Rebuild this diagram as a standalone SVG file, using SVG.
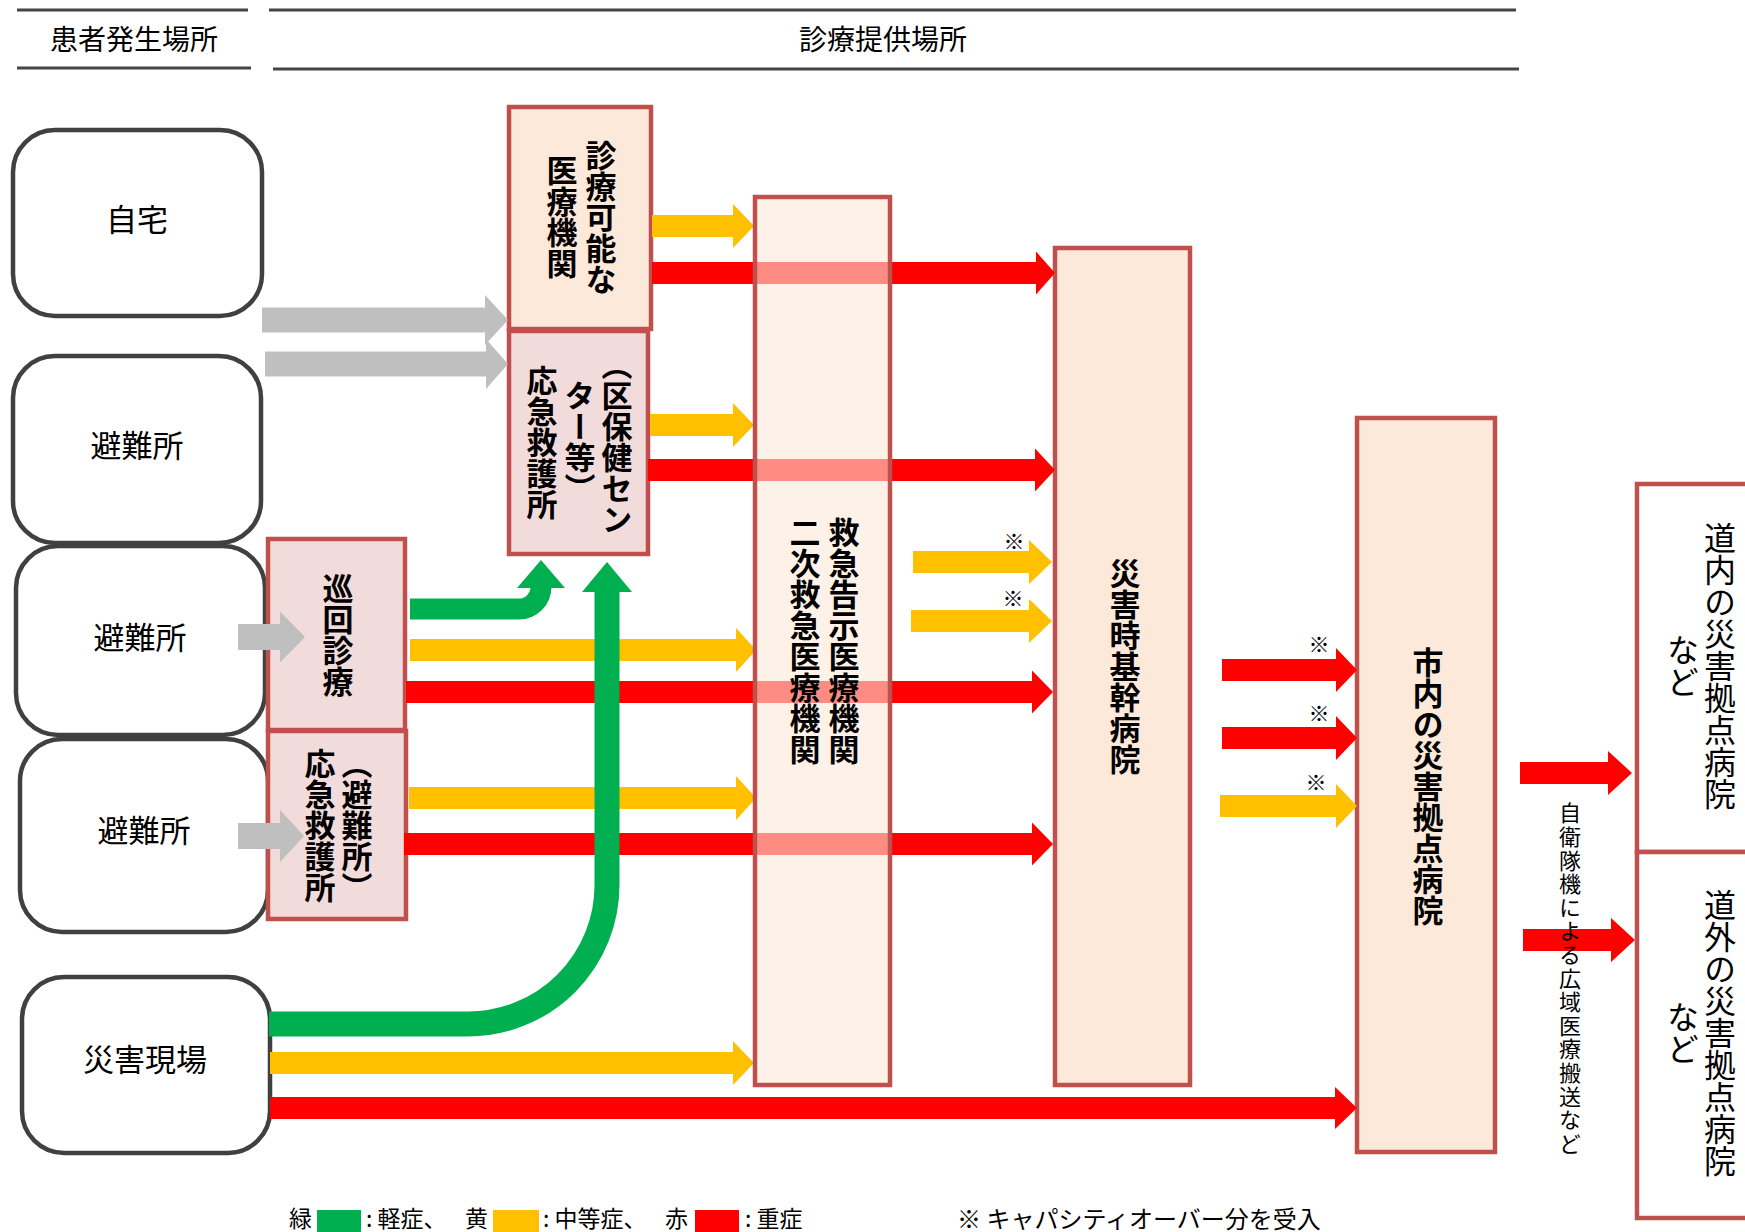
<svg xmlns="http://www.w3.org/2000/svg" width="1745" height="1232" viewBox="0 0 1745 1232">
<defs>
<style>
text { font-family: "Noto Sans CJK JP", "Noto Sans", sans-serif; fill: #000; }
.h { font-size: 28px; dominant-baseline: central; text-anchor: middle; }
.lbl { font-size: 31px; dominant-baseline: central; text-anchor: middle; }
.v { writing-mode: vertical-rl; text-anchor: middle; font-size: 31px; font-weight: 700; }
.vr { writing-mode: vertical-rl; text-anchor: middle; font-size: 32px; font-weight: 400; }
.vs { writing-mode: vertical-rl; text-anchor: middle; font-size: 22px; letter-spacing: 1.6px; }
.note { font-size: 21px; dominant-baseline: central; text-anchor: middle; }
.leg { font-size: 23px; dominant-baseline: central; }
.rbox { fill: #FFFFFF; stroke: #404040; stroke-width: 4.5; }
.peach { fill: #FDE9D9; stroke: #C0504D; stroke-width: 4.5; }
.pink { fill: #F2DCDB; stroke: #C0504D; stroke-width: 4.5; }
.white { fill: #FFFFFF; stroke: #C0504D; stroke-width: 4.5; }
.trans { fill: #FDE9D9; fill-opacity: 0.6; stroke: #C0504D; stroke-width: 4.5; }
.hline { stroke: #454545; stroke-width: 3; }
.red { fill: #FF0000; }
.yel { fill: #FFC000; }
.gry { fill: #BFBFBF; }
.grn { fill: #00B050; }
.grnl { fill: none; stroke: #00B050; }
</style>
</defs>
<rect width="1745" height="1232" fill="#FFFFFF"/>

<!-- header -->
<g id="header">
<line class="hline" x1="17" y1="10" x2="248" y2="10"/>
<line class="hline" x1="17" y1="68" x2="251" y2="68"/>
<line class="hline" x1="269" y1="10" x2="1516" y2="10"/>
<line class="hline" x1="273" y1="69" x2="1519" y2="69"/>
<text class="h" x="134" y="38">患者発生場所</text>
<text class="h" x="883" y="38">診療提供場所</text>
</g>

<!-- base nodes -->
<g id="node-jitaku"><rect class="rbox" x="13" y="130" width="249" height="186" rx="42"/><text class="lbl" x="137" y="217">自宅</text></g>
<g id="node-hinan1"><rect class="rbox" x="13" y="356" width="248" height="187" rx="42"/><text class="lbl" x="137" y="443">避難所</text></g>
<g id="node-hinan2"><rect class="rbox" x="16" y="546" width="249" height="189" rx="42"/><text class="lbl" x="140" y="635">避難所</text></g>
<g id="node-hinan3"><rect class="rbox" x="20" y="739" width="248" height="193" rx="42"/><text class="lbl" x="144" y="828">避難所</text></g>
<g id="node-genba"><rect class="rbox" x="22" y="977" width="248" height="176" rx="42"/><text class="lbl" x="145" y="1057">災害現場</text></g>

<g id="node-shinryo-kano"><rect class="peach" x="509" y="107" width="142" height="222"/>
<text class="v" x="601" y="217">診療可能な</text><text class="v" x="562" y="217">医療機関</text></g>
<g id="node-okyu-ku"><rect class="pink" x="509" y="331" width="139" height="223"/>
<text class="v" x="617" y="442">（区保健セン</text><text class="v" x="580" y="442">ター等）</text><text class="v" x="542" y="442">応急救護所</text></g>
<g id="node-junkai"><rect class="pink" x="268" y="539" width="137" height="191"/>
<text class="v" x="338" y="635">巡回診療</text></g>
<g id="node-okyu-hinan"><rect class="pink" x="268" y="731" width="138" height="188"/>
<text class="v" x="357" y="825">（避難所）</text><text class="v" x="320" y="825">応急救護所</text></g>
<g id="node-kikan"><rect class="peach" x="1055" y="248" width="135" height="837"/>
<text class="v" x="1125" y="666">災害時基幹病院</text></g>
<g id="node-shinai"><rect class="peach" x="1357" y="418" width="138" height="734"/>
<text class="v" x="1428" y="786">市内の災害拠点病院</text></g>
<g id="node-donai"><rect class="white" x="1637" y="484" width="140" height="368"/>
<text class="vr" x="1720" y="666">道内の災害拠点病院</text><text class="vr" x="1683" y="666">など</text></g>
<g id="node-dogai"><rect class="white" x="1637" y="852" width="140" height="366"/>
<text class="vr" x="1720" y="1033">道外の災害拠点病院</text><text class="vr" x="1683" y="1033">など</text></g>

<!-- connectors -->
<g id="connectors">
<!-- gray -->
<polygon class="gry" points="262,307.5 485,307.5 485,295 508,320 485,345 485,332.5 262,332.5"/>
<polygon class="gry" points="265,351.5 486,351.5 486,339 508,364 486,389 486,376.5 265,376.5"/>
<!-- yellow -->
<polygon class="yel" points="652,215 733,215 733,204 754,226 733,248 733,237 652,237"/>
<polygon class="yel" points="650,414 733,414 733,403 754,425 733,447 733,436 650,436"/>
<polygon class="yel" points="913,551 1029,551 1029,540 1052,562 1029,584 1029,573 913,573"/>
<polygon class="yel" points="911,610 1029,610 1029,599 1052,621 1029,643 1029,632 911,632"/>
<polygon class="yel" points="410,639 736,639 736,628 756,650 736,672 736,661 410,661"/>
<polygon class="yel" points="409,787 736,787 736,776 756,798 736,820 736,809 409,809"/>
<polygon class="yel" points="270,1052 733,1052 733,1041 754,1063 733,1085 733,1074 270,1074"/>
<polygon class="yel" points="1220,795 1336,795 1336,784 1357,806 1336,828 1336,817 1220,817"/>
<!-- red -->
<polygon class="red" points="652,262 1036,262 1036,251.5 1055,273 1036,294.5 1036,284 652,284"/>
<polygon class="red" points="648,459 1035,459 1035,448.5 1055,470 1035,491.5 1035,481 648,481"/>
<polygon class="red" points="406,681 1032,681 1032,670.5 1053,692 1032,713.5 1032,703 406,703"/>
<polygon class="red" points="404,833 1032,833 1032,822.5 1053,844 1032,865.5 1032,855 404,855"/>
<polygon class="red" points="270,1097 1335,1097 1335,1087 1357,1108 1335,1129 1335,1119 270,1119"/>
<polygon class="red" points="1222,659 1336,659 1336,648 1357,670 1336,692 1336,681 1222,681"/>
<polygon class="red" points="1222,727 1336,727 1336,716 1357,738 1336,760 1336,749 1222,749"/>
<polygon class="red" points="1520,762 1608,762 1608,751 1632,773 1608,795 1608,784 1520,784"/>
<polygon class="red" points="1523,929 1611,929 1611,918 1635,940 1611,962 1611,951 1523,951"/>
<!-- green -->
<path class="grnl" stroke-width="21" d="M410,609 H519 A22,22 0 0 0 541,587 V586"/>
<polygon class="grn" points="517,588 565,588 541,560"/>
<path class="grnl" stroke-width="25" d="M269,1024 H468 A139,139 0 0 0 607,885 V590"/>
<polygon class="grn" points="582,592 632,592 607,562"/>
<!-- gray into boxes -->
<polygon class="gry" points="238,624 280,624 280,611.5 305,637 280,662.5 280,650 238,650"/>
<polygon class="gry" points="238,823 280,823 280,810 304,836 280,862 280,849 238,849"/>
</g>

<!-- semi-transparent node over arrows -->
<g id="node-kyukyu"><rect class="trans" x="755" y="197" width="135" height="888"/>
<text class="v" x="844" y="641">救急告示医療機関</text><text class="v" x="805" y="641">二次救急医療機関</text></g>

<!-- notes -->
<g id="notes">
<text class="note" x="1014" y="540">※</text>
<text class="note" x="1013" y="597">※</text>
<text class="note" x="1319" y="643">※</text>
<text class="note" x="1319" y="712">※</text>
<text class="note" x="1316" y="781">※</text>
<text class="vs" x="1570" y="979">自衛隊機による広域医療搬送など</text>
</g>

<!-- legend -->
<g id="legend">
<text class="leg" x="289" y="1217">緑</text>
<rect x="317" y="1210" width="44" height="22" fill="#00B050"/>
<text class="leg" x="366" y="1217">: 軽症、</text>
<text class="leg" x="465" y="1217">黄</text>
<rect x="493" y="1210" width="46" height="22" fill="#FFC000"/>
<text class="leg" x="543" y="1217">: 中等症、</text>
<text class="leg" x="665" y="1217">赤</text>
<rect x="695" y="1210" width="44" height="22" fill="#FF0000"/>
<text class="leg" x="745" y="1217">: 重症</text>
<text class="leg" x="957" y="1217" style="font-size:24px">※ キャパシティオーバー分を受入</text>
</g>
</svg>
